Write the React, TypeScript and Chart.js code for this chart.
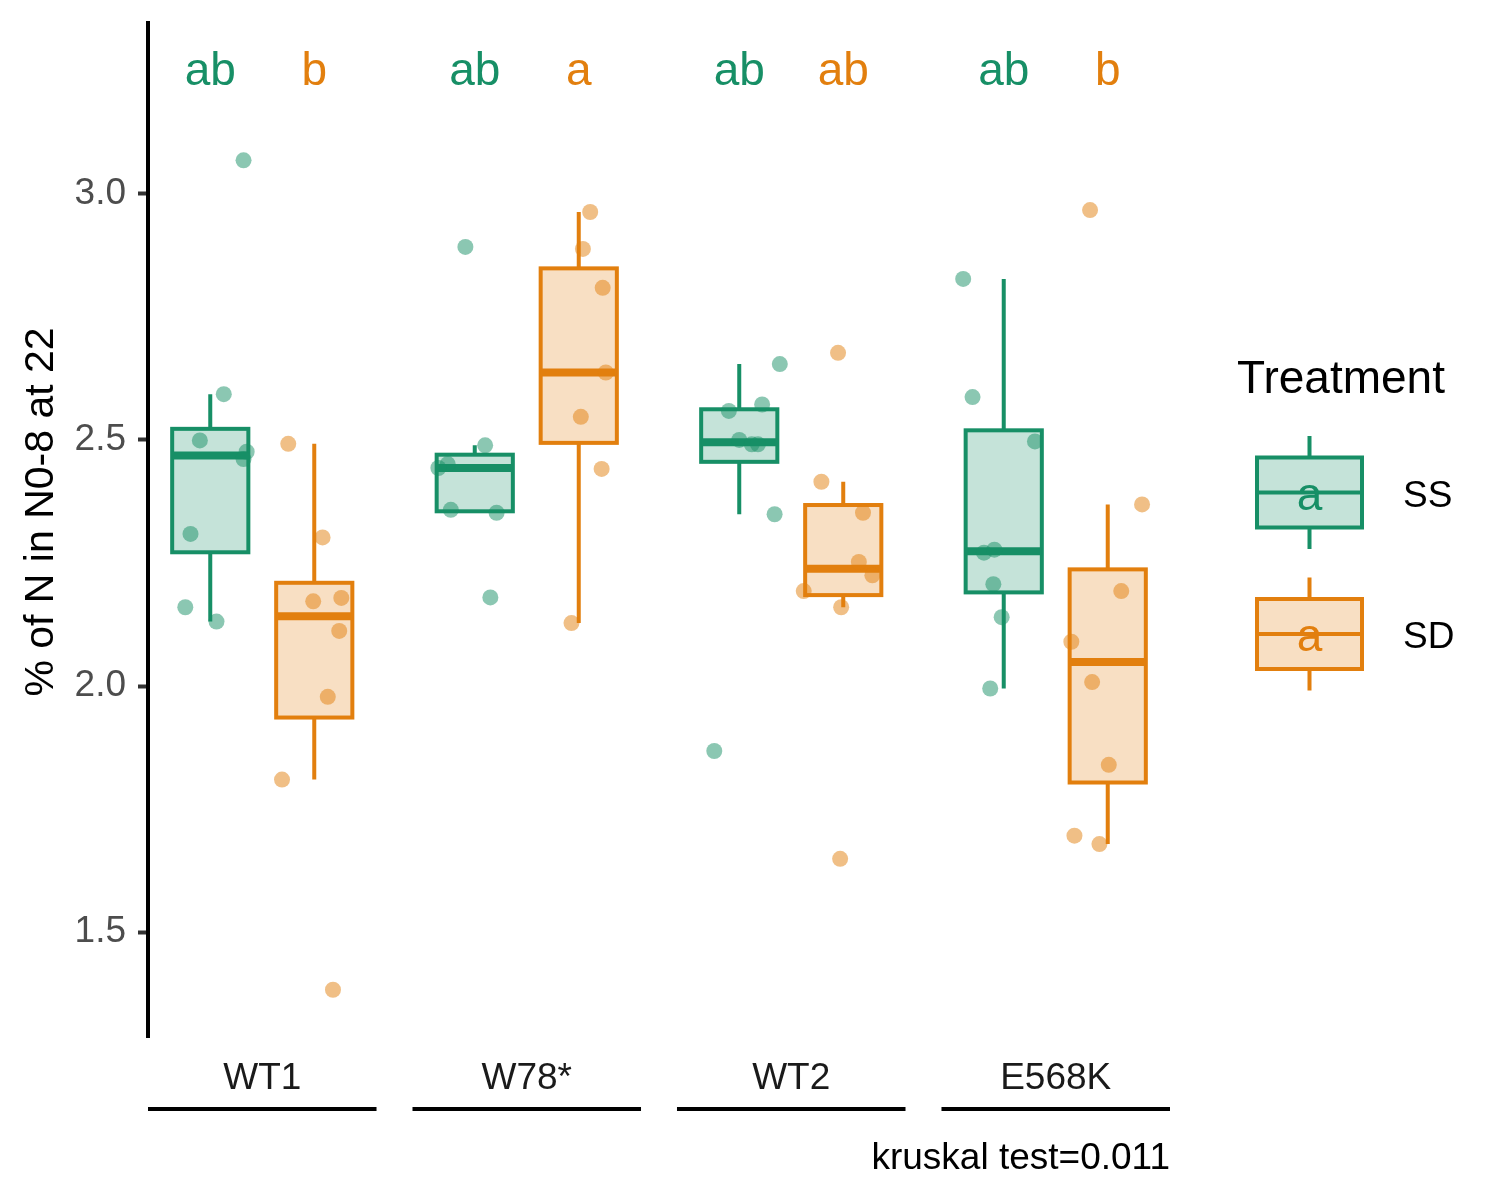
import React, { useEffect, useRef } from "react";
import { Chart, registerables } from "chart.js";

Chart.register(...registerables);

// ---------------- data ----------------
const categories = ["WT1", "W78*", "WT2", "E568K"];
const treatments = ["SS", "SD"];
const yTicks = [1.5, 2.0, 2.5, 3.0];

const wt1SS = [3.068, 2.593, 2.499, 2.476, 2.461, 2.309, 2.16, 2.131];
const wt1SSJitter = [0.32, 0.13, -0.1, 0.35, 0.32, -0.19, -0.24, 0.06];
const wt1SD = [2.492, 2.302, 2.172, 2.179, 2.112, 1.978, 1.81, 1.383];
const wt1SDJitter = [-0.25, 0.08, -0.01, 0.26, 0.24, 0.13, -0.31, 0.18];

const w78SS = [2.892, 2.489, 2.451, 2.443, 2.358, 2.352, 2.18];
const w78SSJitter = [-0.09, 0.1, -0.26, -0.35, -0.23, 0.21, 0.15];
const w78SD = [2.963, 2.888, 2.809, 2.637, 2.547, 2.441, 2.128];
const w78SDJitter = [0.11, 0.04, 0.23, 0.26, 0.02, 0.22, -0.07];

const wt2SS = [2.654, 2.559, 2.572, 2.5, 2.491, 2.491, 2.349, 1.868];
const wt2SSJitter = [0.39, -0.1, 0.22, 0.0, 0.12, 0.18, 0.34, -0.24];
const wt2SD = [2.677, 2.415, 2.352, 2.252, 2.225, 2.193, 2.16, 1.649];
const wt2SDJitter = [-0.05, -0.21, 0.19, 0.15, 0.28, -0.38, -0.02, -0.03];

const e568kSS = [2.827, 2.587, 2.497, 2.271, 2.277, 2.207, 2.14, 1.995];
const e568kSSJitter = [-0.39, -0.3, 0.3, -0.19, -0.09, -0.1, -0.02, -0.13];
const e568kSD = [2.967, 2.369, 2.193, 2.09, 2.008, 1.84, 1.696, 1.679];
const e568kSDJitter = [-0.17, 0.33, 0.13, -0.35, -0.15, 0.01, -0.32, -0.08];

const ssSeries = [wt1SS, w78SS, wt2SS, e568kSS];
const ssJitter = [wt1SSJitter, w78SSJitter, wt2SSJitter, e568kSSJitter];
const sdSeries = [wt1SD, w78SD, wt2SD, e568kSD];
const sdJitter = [wt1SDJitter, w78SDJitter, wt2SDJitter, e568kSDJitter];

const ssLetters = ["ab", "ab", "ab", "ab"];
const sdLetters = ["b", "a", "ab", "b"];
const letterY = 3.25;

const yTitle = "% of N in N0-8 at 22";
const legendTitle = "Treatment";
const legendKeyLetter = "a";
const caption = "kruskal test=0.011";

// ---------------- styles ----------------
const FONT = '"Liberation Sans", Arial, Helvetica, sans-serif';
const GREEN = "#178F66";
const ORANGE = "#E27F0E";
const GREEN_FILL = "rgba(23,143,102,0.25)";
const ORANGE_FILL = "rgba(226,127,14,0.25)";
const GREEN_PT = "rgba(23,143,102,0.5)";
const ORANGE_PT = "rgba(226,127,14,0.5)";
const lineColors = [GREEN, ORANGE];
const fillColors = [GREEN_FILL, ORANGE_FILL];

const PANEL_UNIT = 0.3932; // one discrete step inside a genotype panel, in x units
const DODGE = PANEL_UNIT / 2;
const BOX_HALF = 0.144;
const PANEL_HALF = 0.432;

function quantile(sorted: number[], p: number) {
  const h = (sorted.length - 1) * p;
  const lo = Math.floor(h);
  const hi = Math.min(lo + 1, sorted.length - 1);
  return sorted[lo] + (h - lo) * (sorted[hi] - sorted[lo]);
}

function boxStats(values: number[]) {
  const s = [...values].sort((a, b) => a - b);
  const q1 = quantile(s, 0.25);
  const med = quantile(s, 0.5);
  const q3 = quantile(s, 0.75);
  const iqr = q3 - q1;
  const lo = Math.min(...s.filter((v) => v >= q1 - 1.5 * iqr));
  const hi = Math.max(...s.filter((v) => v <= q3 + 1.5 * iqr));
  return { q1, med, q3, lo, hi };
}

function buildPoints(series: number[][], jitter: number[][], t: number) {
  const pts: { x: number; y: number }[] = [];
  series.forEach((vals, g) => {
    vals.forEach((v, i) => {
      pts.push({ x: g + (t === 0 ? -DODGE : DODGE) + jitter[g][i] * PANEL_UNIT, y: v });
    });
  });
  return pts;
}

const boxPlugin = {
  id: "boxPlugin",
  beforeDatasetsDraw(chart: any) {
    const { ctx, scales } = chart;
    const xs = scales.x;
    const ys = scales.y;
    const half = xs.getPixelForValue(BOX_HALF) - xs.getPixelForValue(0);
    [ssSeries, sdSeries].forEach((series, t) => {
      series.forEach((vals, g) => {
        const st = boxStats(vals);
        const cx = xs.getPixelForValue(g + (t === 0 ? -DODGE : DODGE));
        const yq1 = ys.getPixelForValue(st.q1);
        const yq3 = ys.getPixelForValue(st.q3);
        const ymed = ys.getPixelForValue(st.med);
        const ylo = ys.getPixelForValue(st.lo);
        const yhi = ys.getPixelForValue(st.hi);
        ctx.save();
        ctx.strokeStyle = lineColors[t];
        ctx.lineCap = "butt";
        ctx.lineWidth = 4;
        ctx.beginPath();
        ctx.moveTo(cx, yhi);
        ctx.lineTo(cx, yq3);
        ctx.moveTo(cx, yq1);
        ctx.lineTo(cx, ylo);
        ctx.stroke();
        ctx.fillStyle = "#ffffff";
        ctx.fillRect(cx - half, yq3, half * 2, yq1 - yq3);
        ctx.fillStyle = fillColors[t];
        ctx.fillRect(cx - half, yq3, half * 2, yq1 - yq3);
        ctx.strokeRect(cx - half, yq3, half * 2, yq1 - yq3);
        ctx.lineWidth = 8;
        ctx.beginPath();
        ctx.moveTo(cx - half, ymed);
        ctx.lineTo(cx + half, ymed);
        ctx.stroke();
        ctx.restore();
      });
    });
  },
  afterDatasetsDraw(chart: any) {
    const { ctx, scales } = chart;
    const xs = scales.x;
    const ys = scales.y;
    ctx.save();
    ctx.font = `46px ${FONT}`;
    ctx.textAlign = "center";
    ctx.textBaseline = "middle";
    [ssLetters, sdLetters].forEach((letters, t) => {
      ctx.fillStyle = lineColors[t];
      letters.forEach((l, g) => {
        const cx = xs.getPixelForValue(g + (t === 0 ? -DODGE : DODGE));
        ctx.fillText(l, cx, ys.getPixelForValue(letterY) + 2);
      });
    });
    ctx.restore();
  },
  afterDraw(chart: any) {
    const { ctx, scales, chartArea } = chart;
    const xs = scales.x;
    ctx.save();
    // genotype strip underlines
    ctx.strokeStyle = "#000000";
    ctx.lineWidth = 4;
    ctx.lineCap = "butt";
    categories.forEach((_, g) => {
      ctx.beginPath();
      ctx.moveTo(xs.getPixelForValue(g - PANEL_HALF), 1109);
      ctx.lineTo(xs.getPixelForValue(g + PANEL_HALF), 1109);
      ctx.stroke();
    });
    // caption
    ctx.fillStyle = "#000000";
    ctx.font = `37px ${FONT}`;
    ctx.textAlign = "right";
    ctx.textBaseline = "alphabetic";
    ctx.fillText(caption, chartArea.right, 1169);
    // y title
    ctx.save();
    ctx.translate(53, 512);
    ctx.rotate(-Math.PI / 2);
    ctx.font = `41px ${FONT}`;
    ctx.textAlign = "center";
    ctx.fillText(yTitle, 0, 0);
    ctx.restore();
    // legend
    ctx.font = `46px ${FONT}`;
    ctx.textAlign = "left";
    ctx.fillStyle = "#000000";
    ctx.fillText(legendTitle, 1237, 393);
    const keyCenters = [492.5, 634];
    const keyL = 1257;
    const keyR = 1362;
    const keyCx = (keyL + keyR) / 2;
    treatments.forEach((name, t) => {
      const cy = keyCenters[t];
      ctx.strokeStyle = lineColors[t];
      ctx.lineWidth = 4;
      ctx.beginPath();
      ctx.moveTo(keyCx, cy - 56.5);
      ctx.lineTo(keyCx, cy - 35);
      ctx.moveTo(keyCx, cy + 35);
      ctx.lineTo(keyCx, cy + 56.5);
      ctx.stroke();
      ctx.fillStyle = fillColors[t];
      ctx.fillRect(keyL, cy - 35, keyR - keyL, 70);
      ctx.strokeRect(keyL, cy - 35, keyR - keyL, 70);
      ctx.beginPath();
      ctx.moveTo(keyL, cy);
      ctx.lineTo(keyR, cy);
      ctx.stroke();
      ctx.fillStyle = lineColors[t];
      ctx.font = `46px ${FONT}`;
      ctx.textAlign = "center";
      ctx.fillText(legendKeyLetter, keyCx, cy + 17);
      ctx.fillStyle = "#000000";
      ctx.font = `37px ${FONT}`;
      ctx.textAlign = "left";
      ctx.fillText(name, 1403, cy + 14);
    });
    ctx.restore();
  },
};

export default function App() {
  const canvasRef = useRef<HTMLCanvasElement | null>(null);

  useEffect(() => {
    if (!canvasRef.current) return;
    const chart = new Chart(canvasRef.current, {
      type: "scatter",
      data: {
        datasets: [
          {
            label: treatments[0],
            data: buildPoints(ssSeries, ssJitter, 0),
            backgroundColor: GREEN_PT,
            borderWidth: 0,
            pointRadius: 8,
            pointHoverRadius: 8,
            pointBorderWidth: 0,
          },
          {
            label: treatments[1],
            data: buildPoints(sdSeries, sdJitter, 1),
            backgroundColor: ORANGE_PT,
            borderWidth: 0,
            pointRadius: 8,
            pointHoverRadius: 8,
            pointBorderWidth: 0,
          },
        ],
      },
      options: {
        animation: false,
        responsive: true,
        maintainAspectRatio: false,
        events: [],
        layout: { padding: { top: 23, right: 330, left: 0, bottom: 0 } },
        plugins: { legend: { display: false }, tooltip: { enabled: false } },
        scales: {
          x: {
            type: "linear",
            min: -PANEL_HALF,
            max: 3 + PANEL_HALF,
            afterBuildTicks: (s: any) => {
              s.ticks = categories.map((_, i) => ({ value: i }));
            },
            afterFit: (s: any) => {
              s.height = 163;
              s.paddingLeft = 0;
              s.paddingRight = 0;
            },
            ticks: {
              callback: (v: any) => categories[Math.round(Number(v))],
              font: { family: FONT, size: 37 },
              color: "#1A1A1A",
              padding: 20,
              autoSkip: false,
              maxRotation: 0,
              minRotation: 0,
            },
            grid: { display: false, drawTicks: false },
            border: { display: false },
          },
          y: {
            type: "linear",
            min: 1.287,
            max: 3.347,
            afterBuildTicks: (s: any) => {
              s.ticks = yTicks.map((v) => ({ value: v }));
            },
            afterFit: (s: any) => {
              s.width = 148;
              s.paddingTop = 0;
              s.paddingBottom = 0;
            },
            ticks: {
              callback: (v: any) => Number(v).toFixed(1),
              font: { family: FONT, size: 37 },
              color: "#4D4D4D",
              padding: 12,
            },
            grid: {
              drawOnChartArea: false,
              drawTicks: true,
              tickLength: 10,
              tickWidth: 4,
              tickColor: "#333333",
              color: "#333333",
            },
            border: { display: true, color: "#000000", width: 4 },
          },
        },
      },
      plugins: [boxPlugin],
    } as any);
    return () => chart.destroy();
  }, []);

  return (
    <div
      style={{
        position: "absolute",
        left: 0,
        top: 0,
        width: 1500,
        height: 1200,
        background: "#ffffff",
      }}
    >
      <canvas ref={canvasRef} />
    </div>
  );
}
